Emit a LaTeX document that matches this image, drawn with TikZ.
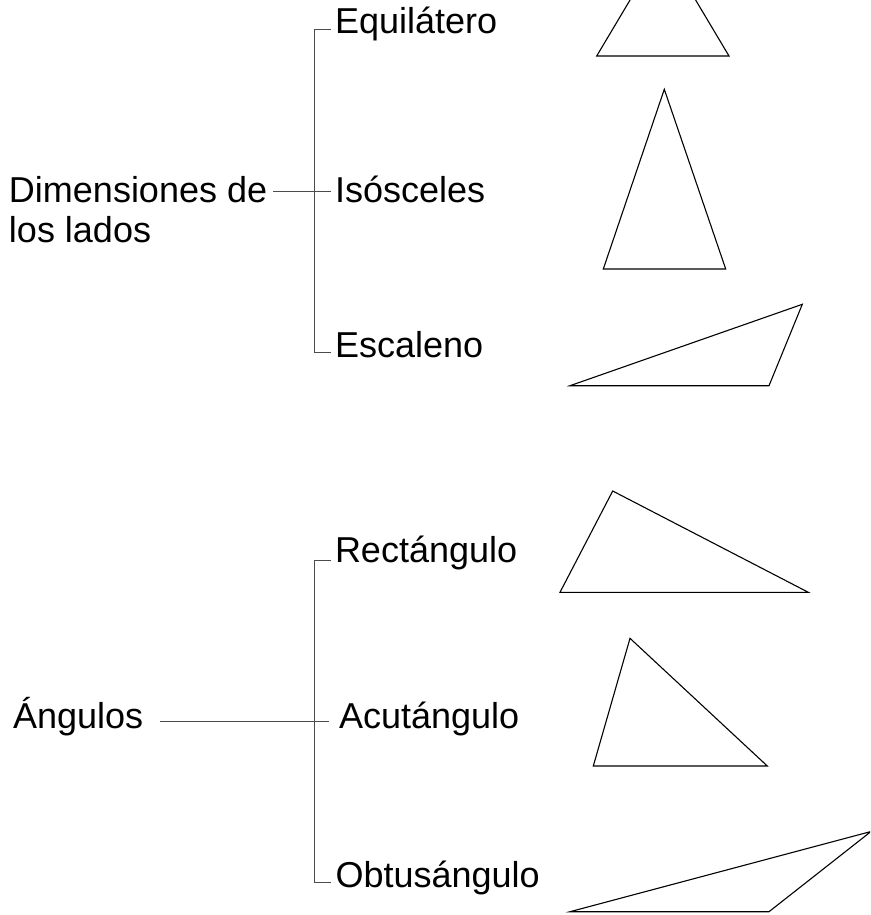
\documentclass[tikz,border=0pt]{standalone}
\usepackage{fontspec}
\setmainfont{Liberation Sans}
\begin{document}
\begin{tikzpicture}[x=1pt,y=-1pt,
  lbl/.style={inner sep=0pt, outer sep=0pt, anchor=base west, font=\fontsize{36}{40}\selectfont},
  treeline/.style={draw=black!70, line width=1pt},
  tri/.style={draw=black, line width=1.1pt, line join=miter}]
\useasboundingbox (0,0) rectangle (870,915);
\clip (0,0) rectangle (870,915);

% ---- first tree: sides
\node[lbl] (dim) at (9,202.5) {\begin{tabular}[t]{@{}l@{}}Dimensiones de\\los lados\end{tabular}};
\node[lbl] (equi) at (335,33.5) {Equilátero};
\node[lbl] (isos) at (335,202.5) {Isósceles};
\node[lbl] (esca) at (335,357) {Escaleno};

\coordinate (jA) at (314.5,191.7);
\coordinate (tA1) at (314.5,30);
\coordinate (tA3) at (314.5,352);

\draw[treeline] ([xshift=-4.5pt]equi.west |- tA1) -- (tA1) -- (tA3) -- ([xshift=-4.5pt]esca.west |- tA3);
\draw[treeline] ([xshift=6pt]dim.east |- jA) -- ([xshift=-4.5pt]isos.west |- jA);

% ---- second tree: angles
\node[lbl] (ang) at (13,728) {Ángulos};
\node[lbl] (rect) at (335,562.5) {Rectángulo};
\node[lbl] (acut) at (339,728) {Acutángulo};
\node[lbl] (obtu) at (335.5,887.5) {Obtusángulo};

\coordinate (jB) at (314.5,721);
\coordinate (tB1) at (314.5,560);
\coordinate (tB3) at (314.5,882);

\draw[treeline] ([xshift=-4.5pt]rect.west |- tB1) -- (tB1) -- (tB3) -- ([xshift=-4.5pt]obtu.west |- tB3);
\draw[treeline] ([xshift=17pt]ang.east |- jB) -- ([xshift=-10pt]acut.west |- jB);

% ---- triangles
\draw[tri] (596.7,56) -- (662.8,-55) -- (729,56) -- cycle;
\draw[tri] (603.3,269) -- (664.3,89.3) -- (725.7,269) -- cycle;
\draw[tri] (570,385.7) -- (802.3,304.3) -- (769,385.7) -- cycle;
\draw[tri] (560,592.3) -- (612.7,491) -- (808.3,592.3) -- cycle;
\draw[tri] (593.3,766) -- (630,638.3) -- (767.3,766) -- cycle;
\draw[tri] (570,911.7) -- (871,831.5) -- (769,911.7) -- cycle;
\end{tikzpicture}
\end{document}
